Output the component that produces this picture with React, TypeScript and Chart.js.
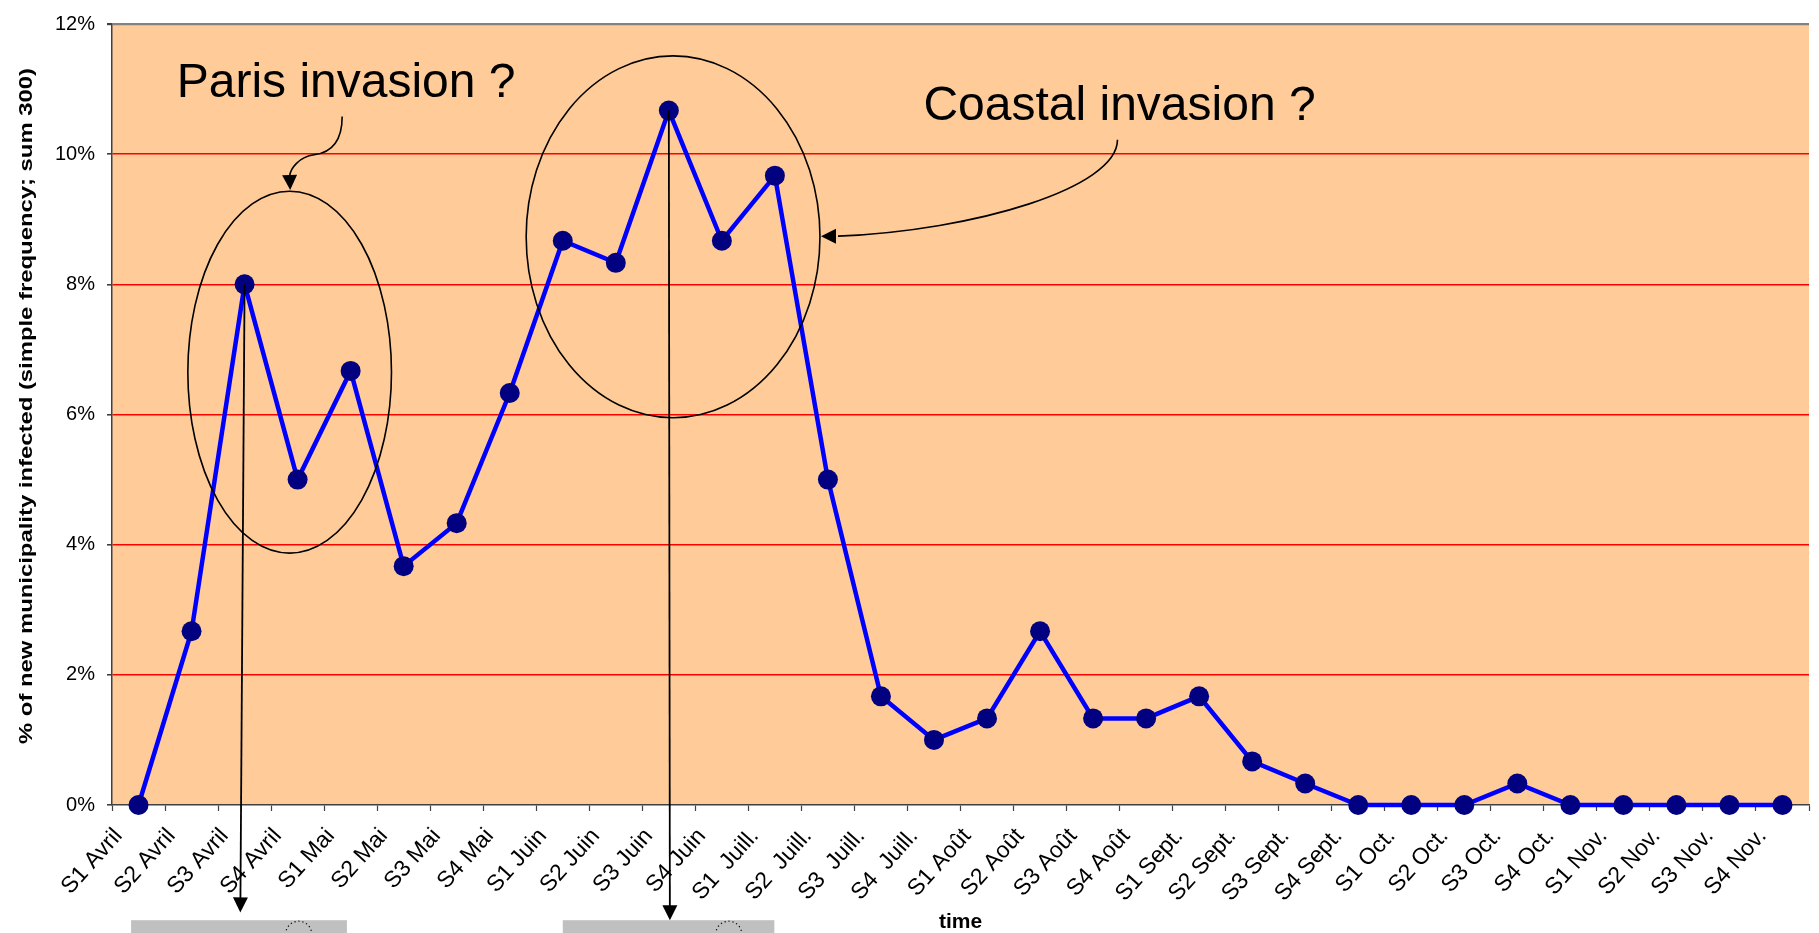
import { useEffect, useRef } from 'react';
import { Chart, registerables } from 'chart.js';

Chart.register(...registerables);

const FONT = "'Liberation Sans', Arial, Helvetica, sans-serif";

const weekLabels = [
  'S1 Avril', 'S2 Avril', 'S3 Avril', 'S4 Avril',
  'S1 Mai', 'S2 Mai', 'S3 Mai', 'S4 Mai',
  'S1 Juin', 'S2 Juin', 'S3 Juin', 'S4 Juin',
  'S1  Juill.', 'S2  Juill.', 'S3  Juill.', 'S4  Juill.',
  'S1 Août', 'S2 Août', 'S3 Août', 'S4 Août',
  'S1 Sept.', 'S2 Sept.', 'S3 Sept.', 'S4 Sept.',
  'S1 Oct.', 'S2 Oct.', 'S3 Oct.', 'S4 Oct.',
  'S1 Nov.', 'S2 Nov.', 'S3 Nov.', 'S4 Nov.',
];

const infectedPct = [
  0, 2.67, 8.0, 5.0,
  6.67, 3.67, 4.33, 6.33,
  8.67, 8.33, 10.67, 8.67,
  9.67, 5.0, 1.67, 1.0,
  1.33, 2.67, 1.33, 1.33,
  1.67, 0.67, 0.33, 0,
  0, 0, 0.33, 0,
  0, 0, 0, 0,
];

const yTickValues = [0, 2, 4, 6, 8, 10, 12];
const yAxisTitle = '% of new municipality infected (simple frequency; sum 300)';
const xAxisTitle = 'time';

// Annotations, in data units (category index, percent)
const ellipseNotes = [
  { cx: 2.85, cy: 6.65, rx: 1.92, ry: 2.78 },
  { cx: 10.08, cy: 8.73, rx: 2.77, ry: 2.78 },
];
const textNotes = [
  { text: 'Paris invasion ?', x: 0.72, y: 10.88 },
  { text: 'Coastal invasion ?', x: 14.8, y: 10.52 },
];
const curvedArrows = [
  {
    pts: [[3.84, 10.58], [3.84, 10.17], [3.59, 10.02], [3.31, 9.99], [3.03, 9.96], [2.86, 9.78], [2.85, 9.66]],
    tip: [2.86, 9.45],
  },
  {
    pts: [[18.46, 10.22], [18.46, 9.48], [15.78, 8.83], [13.19, 8.74]],
    tip: [12.87, 8.74],
  },
];
const dropArrows = [
  { from: 2, tip: [1.92, -1.65] },
  { from: 10, tip: [10.02, -1.77] },
];
const grayBoxes = [
  { x0: -0.14, x1: 3.93, top: -1.77, mark: 3.02 },
  { x0: 8.0, x1: 11.99, top: -1.77, mark: 11.13 },
];

function arrowHead(ctx: CanvasRenderingContext2D, fx: number, fy: number, tx: number, ty: number, len: number, half: number) {
  const a = Math.atan2(ty - fy, tx - fx);
  const bx = tx - len * Math.cos(a);
  const by = ty - len * Math.sin(a);
  ctx.beginPath();
  ctx.moveTo(tx, ty);
  ctx.lineTo(bx + half * Math.sin(a), by - half * Math.cos(a));
  ctx.lineTo(bx - half * Math.sin(a), by + half * Math.cos(a));
  ctx.closePath();
  ctx.fill();
}

const backgroundPlugin = {
  id: 'plotBackground',
  beforeDraw(chart: any) {
    const { ctx, chartArea } = chart;
    ctx.save();
    ctx.fillStyle = '#FFCC99';
    ctx.fillRect(chartArea.left, chartArea.top, chartArea.right - chartArea.left, chartArea.bottom - chartArea.top);
    ctx.restore();
  },
};

const annotationPlugin = {
  id: 'notes',
  afterDatasetsDraw(chart: any) {
    const { ctx, scales, chartArea } = chart;
    const xs = scales.x;
    const ys = scales.y;
    const px = (v: number) => xs.getPixelForValue(v);
    const py = (v: number) => ys.getPixelForValue(v);
    const unitX = px(1) - px(0);
    const unitY = py(0) - py(1);
    ctx.save();
    ctx.strokeStyle = '#000';
    ctx.fillStyle = '#000';

    // ellipses
    ctx.lineWidth = 1.6;
    ellipseNotes.forEach((e) => {
      ctx.beginPath();
      ctx.ellipse(px(e.cx), py(e.cy), e.rx * unitX, e.ry * unitY, 0, 0, Math.PI * 2);
      ctx.stroke();
    });

    // curved arrows
    ctx.lineWidth = 1.6;
    curvedArrows.forEach((c) => {
      const p = c.pts;
      ctx.beginPath();
      ctx.moveTo(px(p[0][0]), py(p[0][1]));
      for (let i = 1; i + 2 < p.length; i += 3) {
        ctx.bezierCurveTo(px(p[i][0]), py(p[i][1]), px(p[i + 1][0]), py(p[i + 1][1]), px(p[i + 2][0]), py(p[i + 2][1]));
      }
      ctx.stroke();
      const last = p[p.length - 1];
      arrowHead(ctx, px(last[0]), py(last[1]), px(c.tip[0]), py(c.tip[1]), 15, 7.5);
    });

    // vertical drop arrows
    ctx.lineWidth = 1.8;
    dropArrows.forEach((d) => {
      const fx = px(d.from);
      const fy = py(infectedPct[d.from]);
      const tx = px(d.tip[0]);
      const ty = py(d.tip[1]);
      const a = Math.atan2(ty - fy, tx - fx);
      ctx.beginPath();
      ctx.moveTo(fx, fy);
      ctx.lineTo(tx - 12 * Math.cos(a), ty - 12 * Math.sin(a));
      ctx.stroke();
      arrowHead(ctx, fx, fy, tx, ty, 15, 7.5);
    });

    // text notes
    ctx.font = `48px ${FONT}`;
    ctx.textAlign = 'left';
    ctx.textBaseline = 'alphabetic';
    textNotes.forEach((t) => {
      ctx.fillText(t.text, px(t.x), py(t.y));
    });

    // gray boxes at bottom
    const H = chart.height;
    grayBoxes.forEach((b) => {
      const x0 = px(b.x0);
      const x1 = px(b.x1);
      const y0 = py(b.top);
      ctx.fillStyle = '#C0C0C0';
      ctx.fillRect(x0, y0, x1 - x0, H - y0);
      ctx.strokeStyle = '#000';
      ctx.lineWidth = 1.2;
      ctx.setLineDash([1.2, 2.8]);
      ctx.beginPath();
      ctx.arc(px(b.mark), y0 + 14, 13, Math.PI, Math.PI * 2);
      ctx.stroke();
      ctx.setLineDash([]);
    });

    // axis titles
    ctx.fillStyle = '#000';
    ctx.font = `bold 19px ${FONT}`;
    const w = ctx.measureText(yAxisTitle).width;
    const s = 676 / w;
    ctx.save();
    ctx.translate(27, 406);
    ctx.rotate(-Math.PI / 2);
    ctx.scale(s, 1);
    ctx.textAlign = 'center';
    ctx.textBaseline = 'middle';
    ctx.fillText(yAxisTitle, 0, 0);
    ctx.restore();

    ctx.font = `bold 21px ${FONT}`;
    ctx.textAlign = 'center';
    ctx.textBaseline = 'alphabetic';
    ctx.fillText(xAxisTitle, (chartArea.left + chartArea.right) / 2, 928);

    ctx.restore();
  },
};

export default function App() {
  const canvasRef = useRef<HTMLCanvasElement | null>(null);

  useEffect(() => {
    const canvas = canvasRef.current;
    if (!canvas) return;
    const chart = new Chart(canvas, {
      type: 'line',
      data: {
        labels: weekLabels,
        datasets: [
          {
            data: infectedPct,
            borderColor: '#0000FF',
            borderWidth: 4.5,
            pointRadius: 10,
            pointHoverRadius: 10,
            pointBackgroundColor: '#000080',
            pointBorderColor: '#000080',
            pointBorderWidth: 0,
            tension: 0,
            fill: false,
            clip: false,
          } as any,
        ],
      },
      options: {
        responsive: false,
        animation: false,
        devicePixelRatio: 1,
        events: [],
        layout: { padding: { left: 0, top: 20, right: 1, bottom: 0 } },
        plugins: {
          legend: { display: false },
          tooltip: { enabled: false },
          title: { display: false },
        },
        scales: {
          x: {
            type: 'category',
            offset: true,
            grid: {
              offset: true,
              drawOnChartArea: false,
              drawTicks: true,
              tickLength: 6,
              tickColor: '#404040',
              tickWidth: 1.2,
            },
            border: { display: true, color: '#404040', width: 1.5 },
            ticks: {
              autoSkip: false,
              minRotation: 48,
              maxRotation: 48,
              labelOffset: -20,
              padding: 12,
              color: '#000',
              font: { family: FONT, size: 23 },
            },
            afterFit: (scale: any) => {
              scale.height = 128;
            },
          },
          y: {
            type: 'linear',
            min: 0,
            max: 12,
            afterBuildTicks: (scale: any) => {
              scale.ticks = yTickValues.map((v) => ({ value: v }));
            },
            grid: {
              drawTicks: true,
              tickLength: 5,
              tickColor: '#404040',
              color: (c: any) => (c.tick && c.tick.value === 0 ? 'rgba(0,0,0,0)' : c.tick && c.tick.value === 12 ? '#858080' : '#FF0000'),
              lineWidth: (c: any) => (c.tick && c.tick.value === 12 ? 2.2 : 1.6),
            },
            border: { display: true, color: '#404040', width: 1.5 },
            ticks: {
              padding: 12,
              color: '#000',
              font: { family: FONT, size: 20 },
              callback: (v: any) => `${v}%`,
            },
            afterFit: (scale: any) => {
              scale.width = 112;
            },
          },
        },
      },
      plugins: [backgroundPlugin, annotationPlugin],
    });
    return () => chart.destroy();
  }, []);

  return (
    <div style={{ position: 'fixed', left: 0, top: 0, width: 1819, height: 933, background: '#fff', overflow: 'hidden' }}>
      <canvas ref={canvasRef} width={1819} height={933} style={{ display: 'block' }} />
    </div>
  );
}
